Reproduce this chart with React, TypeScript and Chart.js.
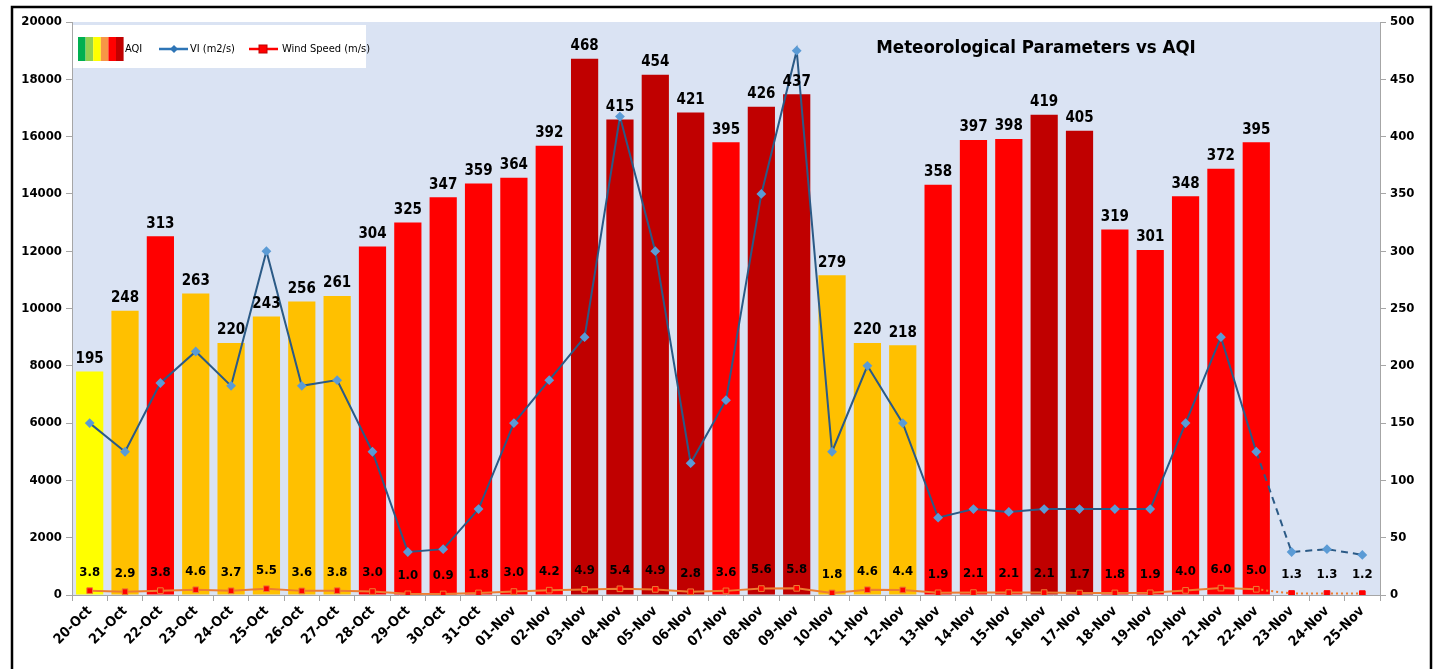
import React, { useEffect, useRef } from 'react';
import { Chart, registerables } from 'chart.js';
Chart.register(...registerables);

const FONT = "'DejaVu Sans Condensed', 'Liberation Sans Narrow', 'DejaVu Sans', sans-serif";

const categories = [
  '20-Oct', '21-Oct', '22-Oct', '23-Oct', '24-Oct', '25-Oct', '26-Oct', '27-Oct', '28-Oct', '29-Oct', '30-Oct', '31-Oct',
  '01-Nov', '02-Nov', '03-Nov', '04-Nov', '05-Nov', '06-Nov', '07-Nov', '08-Nov', '09-Nov', '10-Nov', '11-Nov', '12-Nov',
  '13-Nov', '14-Nov', '15-Nov', '16-Nov', '17-Nov', '18-Nov', '19-Nov', '20-Nov', '21-Nov', '22-Nov', '23-Nov', '24-Nov', '25-Nov',
];

const aqiValues: (number | null)[] = [
  195, 248, 313, 263, 220, 243, 256, 261, 304, 325, 347, 359,
  364, 392, 468, 415, 454, 421, 395, 426, 437, 279, 220, 218,
  358, 397, 398, 419, 405, 319, 301, 348, 372, 395, null, null, null,
];

const viValues = [
  6000, 5000, 7400, 8500, 7300, 12000, 7300, 7500, 5000, 1500, 1600, 3000,
  6000, 7500, 9000, 16700, 12000, 4600, 6800, 14000, 19000, 5000, 8000, 6000,
  2700, 3000, 2900, 3000, 3000, 3000, 3000, 6000, 9000, 5000, 1500, 1600, 1400,
];

const windSpeed = [
  3.8, 2.9, 3.8, 4.6, 3.7, 5.5, 3.6, 3.8, 3.0, 1.0, 0.9, 1.8,
  3.0, 4.2, 4.9, 5.4, 4.9, 2.8, 3.6, 5.6, 5.8, 1.8, 4.6, 4.4,
  1.9, 2.1, 2.1, 2.1, 1.7, 1.8, 1.9, 4.0, 6.0, 5.0, 1.3, 1.3, 1.2,
];

const forecastStart = 33; // index of 22-Nov; segments after it are dashed
const titleText = 'Meteorological Parameters vs AQI';
const legendLabels = ['AQI', 'VI (m2/s)', 'Wind Speed (m/s)'];
const aqiLegendColors = ['#00b050', '#92d050', '#ffff00', '#f79646', '#ff0000', '#c00000'];

function aqiColor(v: number | null) {
  if (v == null) return 'rgba(0,0,0,0)';
  if (v <= 200) return '#ffff00';
  if (v <= 300) return '#ffc000';
  if (v <= 400) return '#ff0000';
  return '#c00000';
}

const decorPlugin = {
  id: 'decor',
  beforeDraw(chart: any) {
    const { ctx, chartArea: a } = chart;
    ctx.save();
    ctx.fillStyle = '#ffffff';
    ctx.fillRect(0, 0, chart.width, chart.height);
    ctx.fillStyle = '#dae3f3';
    ctx.fillRect(a.left, a.top, a.right - a.left, a.bottom - a.top);
    ctx.restore();
  },
  afterDatasetsDraw(chart: any) {
    const { ctx } = chart;
    ctx.save();
    ctx.fillStyle = '#000';
    ctx.textAlign = 'center';
    ctx.textBaseline = 'bottom';
    const barMeta = chart.getDatasetMeta(0);
    ctx.font = `bold 15px ${FONT}`;
    barMeta.data.forEach((el: any, i: number) => {
      const v = aqiValues[i];
      if (v == null) return;
      ctx.fillText(String(v), el.x, el.y - 5);
    });
    const windMeta = chart.getDatasetMeta(2);
    ctx.font = `bold 13px ${FONT}`;
    windMeta.data.forEach((el: any, i: number) => {
      ctx.fillText(windSpeed[i].toFixed(1), el.x, el.y - 12);
    });
    ctx.restore();
  },
  afterDraw(chart: any) {
    const { ctx, chartArea: a } = chart;
    ctx.save();
    // title
    ctx.fillStyle = '#000';
    ctx.font = `bold 18.5px ${FONT}`;
    ctx.textAlign = 'center';
    ctx.textBaseline = 'middle';
    ctx.fillText(titleText, 1036, 48);
    // legend box
    ctx.fillStyle = '#ffffff';
    ctx.fillRect(a.left + 1, 25, 293, 43);
    const cy = 49;
    // AQI icon
    let x = 78;
    aqiLegendColors.forEach((c) => {
      ctx.fillStyle = c;
      ctx.fillRect(x, cy - 12, 7.6, 24);
      x += 7.6;
    });
    ctx.fillStyle = '#000';
    ctx.font = `11px ${FONT}`;
    ctx.textAlign = 'left';
    ctx.fillText(legendLabels[0], 125, cy);
    // VI icon
    ctx.strokeStyle = '#2e75b6';
    ctx.lineWidth = 2.5;
    ctx.beginPath();
    ctx.moveTo(159, cy);
    ctx.lineTo(188, cy);
    ctx.stroke();
    ctx.fillStyle = '#2e75b6';
    ctx.beginPath();
    ctx.moveTo(174, cy - 4);
    ctx.lineTo(178, cy);
    ctx.lineTo(174, cy + 4);
    ctx.lineTo(170, cy);
    ctx.closePath();
    ctx.fill();
    ctx.fillStyle = '#000';
    ctx.fillText(legendLabels[1], 190, cy);
    // wind icon
    ctx.strokeStyle = '#ff0000';
    ctx.beginPath();
    ctx.moveTo(249, cy);
    ctx.lineTo(278, cy);
    ctx.stroke();
    ctx.fillStyle = '#ff0000';
    ctx.fillRect(259, cy - 4, 8, 8);
    ctx.strokeStyle = '#c00000';
    ctx.lineWidth = 1;
    ctx.strokeRect(259, cy - 4, 8, 8);
    ctx.fillStyle = '#000';
    ctx.fillText(legendLabels[2], 282, cy);
    // outer frame
    ctx.strokeStyle = '#000';
    ctx.lineWidth = 2.5;
    ctx.strokeRect(12, 7, 1419, 700);
    ctx.restore();
  },
};

export default function App() {
  const ref = useRef<HTMLCanvasElement | null>(null);
  useEffect(() => {
    if (!ref.current) return;
    const tickFont = { family: FONT, size: 13, weight: 'bold' as const };
    const chart = new Chart(ref.current, {
      type: 'bar',
      data: {
        labels: categories,
        datasets: [
          {
            type: 'bar',
            label: 'AQI',
            data: aqiValues,
            backgroundColor: aqiValues.map(aqiColor),
            yAxisID: 'yR',
            barPercentage: 0.77,
            categoryPercentage: 1,
            order: 3,
          },
          {
            type: 'line',
            label: 'VI (m2/s)',
            data: viValues,
            yAxisID: 'yL',
            borderColor: '#2b5a86',
            borderWidth: 2,
            pointStyle: 'rectRot',
            pointRadius: 3.5,
            pointBackgroundColor: '#5b9bd5',
            pointBorderColor: '#5b9bd5',
            tension: 0,
            segment: {
              borderDash: (c: any) => (c.p0DataIndex >= forecastStart ? [7, 5] : undefined),
            },
            order: 1,
          } as any,
          {
            type: 'line',
            label: 'Wind Speed (m/s)',
            data: windSpeed,
            yAxisID: 'yR',
            borderColor: '#ed7d31',
            borderWidth: 2,
            pointStyle: 'rect',
            pointRadius: 4,
            pointBackgroundColor: '#ff0000',
            pointBorderColor: windSpeed.map((_, i) => (i > forecastStart ? '#ff0000' : '#ed7d31')),
            pointBorderWidth: 1,
            tension: 0,
            segment: {
              borderDash: (c: any) => (c.p0DataIndex >= forecastStart ? [2, 3] : undefined),
            },
            order: 2,
          } as any,
        ],
      },
      options: {
        animation: false,
        responsive: true,
        maintainAspectRatio: false,
        layout: { padding: { top: 22, left: 0, right: 0, bottom: 0 } },
        plugins: { legend: { display: false }, tooltip: { enabled: false }, title: { display: false } },
        scales: {
          x: {
            offset: true,
            grid: { display: true, drawOnChartArea: false, drawTicks: true, tickLength: 6, color: '#a6a6a6', offset: true },
            border: { display: true, color: '#a6a6a6' },
            ticks: { font: { family: FONT, size: 14, weight: 'bold' }, color: '#000', maxRotation: 45, minRotation: 45, autoSkip: false, padding: 2 },
            afterFit: (s: any) => { s.height = 74; },
          },
          yL: {
            type: 'linear',
            position: 'left',
            min: 0,
            max: 20000,
            ticks: { stepSize: 2000, font: tickFont, color: '#000', padding: 4, callback: (v: any) => String(v) },
            grid: { display: true, drawOnChartArea: false, tickLength: 6, color: '#a6a6a6' },
            border: { display: true, color: '#a6a6a6' },
            afterFit: (s: any) => { s.width = 72; },
          },
          yR: {
            type: 'linear',
            position: 'right',
            min: 0,
            max: 500,
            ticks: { stepSize: 50, font: tickFont, color: '#000', padding: 4, callback: (v: any) => String(v) },
            grid: { display: true, drawOnChartArea: false, tickLength: 6, color: '#a6a6a6' },
            border: { display: true, color: '#a6a6a6' },
            afterFit: (s: any) => { s.width = 60; },
          },
        },
      },
      plugins: [decorPlugin],
    });
    return () => chart.destroy();
  }, []);
  return (
    <div style={{ position: 'fixed', left: 0, top: 0, width: 1440, height: 669, background: '#fff' }}>
      <canvas ref={ref} />
    </div>
  );
}
